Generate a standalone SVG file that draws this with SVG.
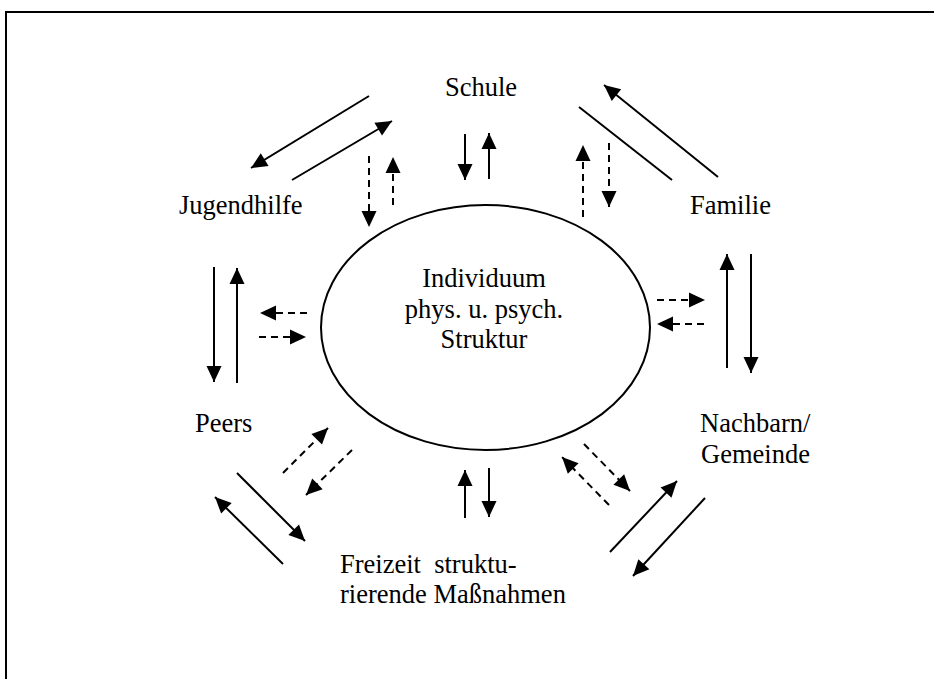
<svg xmlns="http://www.w3.org/2000/svg" width="934" height="679" viewBox="0 0 934 679">
  <style>
    .lbl { font-family: "Liberation Serif", "Times New Roman", serif; font-size: 26.5px; fill: #000; }
    .c { text-anchor: middle; }
    .pre { white-space: pre; }
    .solid { stroke: #000; stroke-width: 2; fill: none; }
    .arrow { marker-end: url(#head); }
    .dash { stroke: #000; stroke-width: 2; fill: none; stroke-dasharray: 7 5; marker-end: url(#head); }
  </style>
  <defs>
    <marker id="head" markerUnits="userSpaceOnUse" markerWidth="16" markerHeight="15" refX="16" refY="7.5" orient="auto" overflow="visible">
      <path d="M0,0 L16,7.5 L0,15 Z" fill="#000" stroke="none"/>
    </marker>
  </defs>

  <rect width="934" height="679" fill="#fff"/>
  <!-- page frame (top and left edges visible) -->
  <path d="M6,679 V12 H934" fill="none" stroke="#000" stroke-width="2"/>

  <g id="individuum">
    <ellipse cx="485.5" cy="327.5" rx="164.5" ry="122.5" fill="none" stroke="#000" stroke-width="2"/>
    <text class="lbl c" x="484" y="287">Individuum</text>
    <text class="lbl c" x="484" y="318">phys. u. psych.</text>
    <text class="lbl c" x="484" y="348">Struktur</text>
  </g>

  <g id="schule"><text class="lbl" x="445" y="96">Schule</text></g>
  <g id="jugendhilfe"><text class="lbl" x="179" y="214">Jugendhilfe</text></g>
  <g id="familie"><text class="lbl" x="690" y="214">Familie</text></g>
  <g id="peers"><text class="lbl" x="195" y="432">Peers</text></g>
  <g id="nachbarn">
    <text class="lbl" x="700" y="432">Nachbarn/</text>
    <text class="lbl" x="701" y="463">Gemeinde</text>
  </g>
  <g id="freizeit">
    <text class="lbl pre" x="340" y="573">Freizeit  struktu-</text>
    <text class="lbl" x="340" y="603">rierende Maßnahmen</text>
  </g>

  <g id="connectors">
    <!-- Schule / Jugendhilfe -->
    <line class="solid arrow" x1="369" y1="96" x2="251" y2="168"/>
    <line class="solid arrow" x1="292" y1="180" x2="392" y2="121"/>
    <!-- Schule / Familie -->
    <line class="solid" x1="579" y1="107" x2="672" y2="180"/>
    <line class="solid arrow" x1="718" y1="177" x2="604" y2="85"/>
    <!-- Schule / Individuum -->
    <line class="solid arrow" x1="465" y1="134" x2="465" y2="180"/>
    <line class="solid arrow" x1="489" y1="179" x2="489" y2="133"/>
    <line class="dash" x1="369" y1="156" x2="369" y2="227"/>
    <line class="dash" x1="393" y1="205" x2="393" y2="157"/>
    <line class="dash" x1="583" y1="217" x2="583" y2="145"/>
    <line class="dash" x1="609" y1="143" x2="609" y2="207"/>
    <!-- Jugendhilfe / Peers -->
    <line class="solid arrow" x1="214" y1="267" x2="214" y2="382"/>
    <line class="solid arrow" x1="237" y1="383" x2="237" y2="268"/>
    <line class="dash" x1="307" y1="313" x2="260" y2="313"/>
    <line class="dash" x1="259" y1="337" x2="306" y2="337"/>
    <!-- Familie / Nachbarn -->
    <line class="dash" x1="657" y1="300" x2="705" y2="300"/>
    <line class="dash" x1="704" y1="324" x2="657" y2="324"/>
    <line class="solid arrow" x1="727" y1="368" x2="727" y2="254"/>
    <line class="solid arrow" x1="751" y1="254" x2="751" y2="373"/>
    <!-- Peers / Freizeit -->
    <line class="dash" x1="283" y1="473" x2="328" y2="428"/>
    <line class="dash" x1="352" y1="450" x2="306" y2="495"/>
    <line class="solid arrow" x1="237" y1="473" x2="305" y2="541"/>
    <line class="solid arrow" x1="283" y1="564" x2="215" y2="497"/>
    <!-- Freizeit / Individuum -->
    <line class="solid arrow" x1="465" y1="518" x2="465" y2="470"/>
    <line class="solid arrow" x1="489" y1="468" x2="489" y2="517"/>
    <!-- Nachbarn / Individuum -->
    <line class="dash" x1="609" y1="505" x2="562" y2="457"/>
    <line class="dash" x1="584" y1="444" x2="630" y2="491"/>
    <!-- Freizeit / Nachbarn -->
    <line class="solid arrow" x1="610" y1="552" x2="677" y2="481"/>
    <line class="solid arrow" x1="705" y1="498" x2="633" y2="576"/>
  </g>
</svg>
